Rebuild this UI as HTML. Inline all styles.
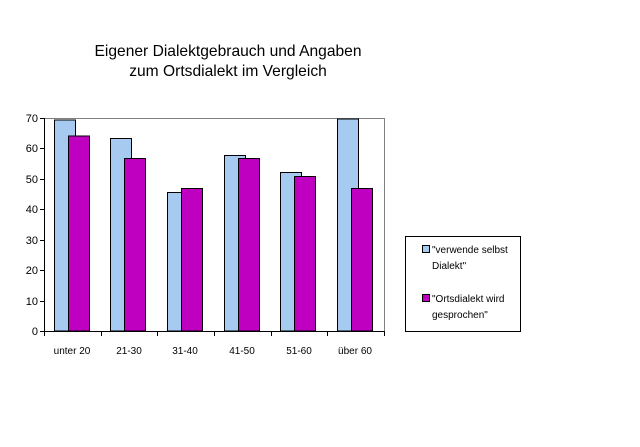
<!DOCTYPE html><html><head><style>body{margin:0;background:#fff}</style></head><body>
<svg width="640" height="442" xmlns="http://www.w3.org/2000/svg" font-family="Liberation Sans, Arial, sans-serif">
<rect width="640" height="442" fill="#fff"/>
<text x="228" y="56" font-size="15.6" text-anchor="middle">Eigener Dialektgebrauch und Angaben</text>
<text x="228" y="76" font-size="15.6" text-anchor="middle">zum Ortsdialekt im Vergleich</text>
<line x1="44" y1="118.5" x2="384.5" y2="118.5" stroke="#808080"/>
<line x1="384.5" y1="118" x2="384.5" y2="331" stroke="#808080"/>
<g stroke="#000" stroke-width="1">
<rect x="54.5" y="120" width="21" height="211" fill="#a6caf0"/>
<rect x="68.5" y="136" width="21" height="195" fill="#c000c0"/>
<rect x="110.5" y="138.5" width="21" height="192.5" fill="#a6caf0"/>
<rect x="124.5" y="158.5" width="21" height="172.5" fill="#c000c0"/>
<rect x="167.5" y="192.5" width="21" height="138.5" fill="#a6caf0"/>
<rect x="181.5" y="188.5" width="21" height="142.5" fill="#c000c0"/>
<rect x="224.5" y="155.5" width="21" height="175.5" fill="#a6caf0"/>
<rect x="238.5" y="158.5" width="21" height="172.5" fill="#c000c0"/>
<rect x="280.5" y="172.5" width="21" height="158.5" fill="#a6caf0"/>
<rect x="294.5" y="176.5" width="21" height="154.5" fill="#c000c0"/>
<rect x="337.5" y="119" width="21" height="212" fill="#a6caf0"/>
<rect x="351.5" y="188.5" width="21" height="142.5" fill="#c000c0"/>
</g>
<g font-size="11" text-anchor="end">
<text x="38" y="335">0</text><text x="38" y="305">10</text><text x="38" y="274">20</text><text x="38" y="244">30</text><text x="38" y="213">40</text><text x="38" y="183">50</text><text x="38" y="152">60</text><text x="38" y="122">70</text>
</g>
<g font-size="10" text-anchor="middle">
<text x="72" y="354">unter 20</text><text x="129" y="354">21-30</text><text x="185" y="354">31-40</text><text x="242" y="354">41-50</text><text x="299" y="354">51-60</text><text x="355" y="354">über 60</text>
</g>
<g stroke="#000"><line x1="44.5" y1="118" x2="44.5" y2="331"/><line x1="40" y1="331.5" x2="384" y2="331.5"/>
<line x1="44.5" y1="331" x2="44.5" y2="336"/><line x1="101.5" y1="331" x2="101.5" y2="336"/><line x1="157.5" y1="331" x2="157.5" y2="336"/><line x1="214.5" y1="331" x2="214.5" y2="336"/><line x1="271.5" y1="331" x2="271.5" y2="336"/><line x1="327.5" y1="331" x2="327.5" y2="336"/><line x1="384.5" y1="331" x2="384.5" y2="336"/>
<line x1="40" y1="301.5" x2="44" y2="301.5"/><line x1="40" y1="270.5" x2="44" y2="270.5"/><line x1="40" y1="240.5" x2="44" y2="240.5"/><line x1="40" y1="209.5" x2="44" y2="209.5"/><line x1="40" y1="179.5" x2="44" y2="179.5"/><line x1="40" y1="148.5" x2="44" y2="148.5"/><line x1="40" y1="118.5" x2="44" y2="118.5"/>
</g>
<rect x="405.5" y="236.5" width="115" height="95" fill="#fff" stroke="#000"/>
<rect x="422.5" y="245.5" width="7" height="7" fill="#a6caf0" stroke="#000"/>
<rect x="422.5" y="294.5" width="7" height="7" fill="#c000c0" stroke="#000"/>
<g font-size="10"><text x="432" y="253">"verwende selbst</text><text x="432" y="269">Dialekt"</text><text x="432" y="302">"Ortsdialekt wird</text><text x="432" y="318">gesprochen"</text></g>
</svg></body></html>
